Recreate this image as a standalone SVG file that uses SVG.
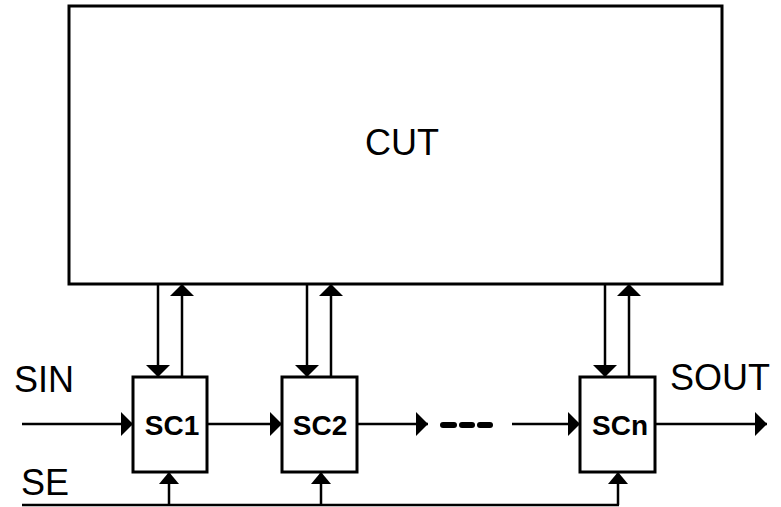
<svg xmlns="http://www.w3.org/2000/svg" width="781" height="507" viewBox="0 0 781 507">
<style>
.box{fill:#fff;stroke:#000;stroke-width:3}
.ln{stroke:#000;stroke-width:2.5;fill:none}
.big{font-family:"Liberation Sans",Arial,sans-serif;font-size:36px;fill:#000}
.sc{font-family:"Liberation Sans",Arial,sans-serif;font-size:28px;font-weight:bold;fill:#000}
.dash{stroke:#000;stroke-width:6;stroke-linecap:round}
</style>
<defs>
<marker id="ah" markerUnits="userSpaceOnUse" markerWidth="13" markerHeight="24" refX="12" refY="12" orient="auto" viewBox="0 0 13 24">
<path d="M0,0 L12,12 L0,24 z" fill="#000"/>
</marker>
<marker id="as" markerUnits="userSpaceOnUse" markerWidth="13" markerHeight="20" refX="12" refY="10" orient="auto" viewBox="0 0 13 20">
<path d="M0,0 L12,10 L0,20 z" fill="#000"/>
</marker>
</defs>
<rect width="781" height="507" fill="#fff"/>
<g id="cut"><rect class="box" x="69" y="6" width="653" height="278"/><text class="big" x="402" y="155" text-anchor="middle">CUT</text></g>
<g id="sc1"><rect class="box" x="133" y="377" width="74" height="95"/><text class="sc" x="172" y="435" text-anchor="middle">SC1</text></g>
<g id="sc2"><rect class="box" x="282" y="377" width="75" height="95"/><text class="sc" x="320" y="435" text-anchor="middle">SC2</text></g>
<g id="scn"><rect class="box" x="580" y="377" width="75" height="95"/><text class="sc" x="620" y="435" text-anchor="middle">SCn</text></g>
<g id="labels">
<text class="big" x="14" y="392">SIN</text>
<text class="big" x="21" y="495">SE</text>
<text class="big" x="670" y="390">SOUT</text>
</g>
<g id="connectors">
<line class="ln" x1="158" y1="284" x2="158" y2="377" marker-end="url(#ah)"/>
<line class="ln" x1="182" y1="377" x2="182" y2="284" marker-end="url(#ah)"/>
<line class="ln" x1="307" y1="284" x2="307" y2="377" marker-end="url(#ah)"/>
<line class="ln" x1="331" y1="377" x2="331" y2="284" marker-end="url(#ah)"/>
<line class="ln" x1="605" y1="284" x2="605" y2="377" marker-end="url(#ah)"/>
<line class="ln" x1="629" y1="377" x2="629" y2="284" marker-end="url(#ah)"/>
<line class="ln" x1="22" y1="424" x2="133" y2="424" marker-end="url(#ah)"/>
<line class="ln" x1="207" y1="424" x2="282" y2="424" marker-end="url(#ah)"/>
<line class="ln" x1="357" y1="424" x2="428" y2="424" marker-end="url(#ah)"/>
<line class="dash" x1="443" y1="425" x2="454" y2="425"/>
<line class="dash" x1="462" y1="425" x2="472" y2="425"/>
<line class="dash" x1="480" y1="425" x2="490" y2="425"/>
<line class="ln" x1="512" y1="424" x2="580" y2="424" marker-end="url(#ah)"/>
<line class="ln" x1="655" y1="424" x2="767" y2="424" marker-end="url(#ah)"/>
<line class="ln" x1="22" y1="505" x2="619" y2="505"/>
<line class="ln" x1="169" y1="505" x2="169" y2="472" marker-end="url(#as)"/>
<line class="ln" x1="321" y1="505" x2="321" y2="472" marker-end="url(#as)"/>
<line class="ln" x1="618" y1="505" x2="618" y2="472" marker-end="url(#as)"/>
</g>
</svg>
